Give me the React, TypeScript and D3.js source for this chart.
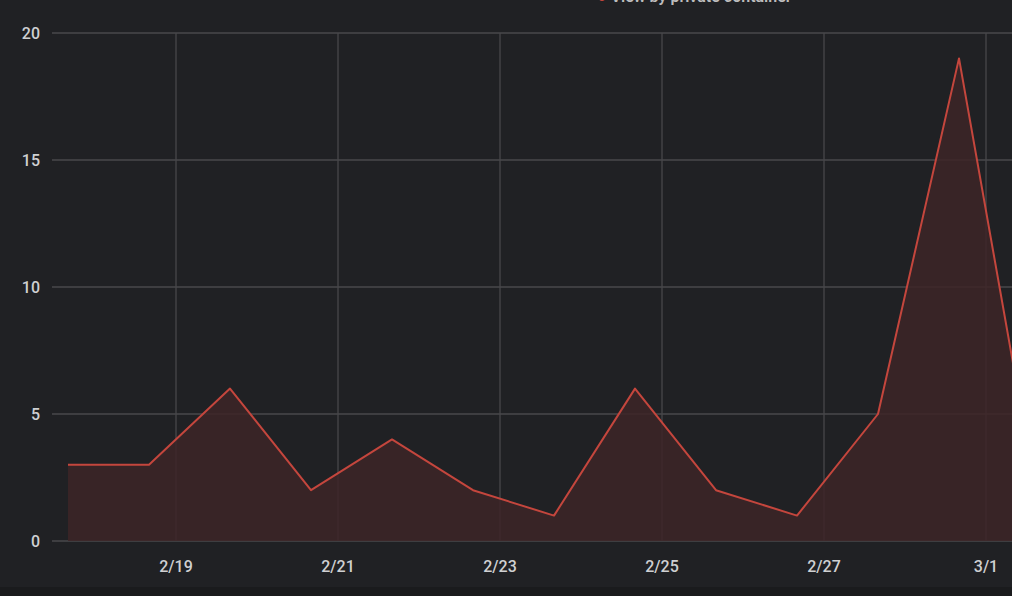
import * as d3 from 'd3'

const dates = [
  '2022-02-17T16:00', '2022-02-18T16:00', '2022-02-19T16:00', '2022-02-20T16:00',
  '2022-02-21T16:00', '2022-02-22T16:00', '2022-02-23T16:00', '2022-02-24T16:00',
  '2022-02-25T16:00', '2022-02-26T16:00', '2022-02-27T16:00', '2022-02-28T16:00',
  '2022-03-01T16:00',
]
const counts = [3, 3, 6, 2, 4, 2, 1, 6, 2, 1, 5, 19, 1]
const yTicks = [0, 5, 10, 15, 20]
const xTicks = ['2022-02-19', '2022-02-21', '2022-02-23', '2022-02-25', '2022-02-27', '2022-03-01']

const W = 1012
const H = 596
const plot = { left: 52, right: 1012, top: 33, bottom: 541 }

export default function App() {
  const parse = (s: string) => new Date(s)
  const data = dates.map((d, i) => ({ t: parse(d), v: counts[i] }))

  const x = d3.scaleTime()
    .domain([parse('2022-02-19T00:00'), parse('2022-03-01T00:00')])
    .range([176, 986])
  const y = d3.scaleLinear().domain([0, 20]).range([plot.bottom, plot.top])

  const area = d3.area<{ t: Date; v: number }>()
    .x((d) => x(d.t))
    .y0(y(0))
    .y1((d) => y(d.v))
  const line = d3.line<{ t: Date; v: number }>()
    .x((d) => x(d.t))
    .y((d) => y(d.v))

  const fmt = d3.timeFormat('%-m/%-d')
  const font = 'Roboto, "Noto Sans", sans-serif'

  return (
    <div style={{ position: 'fixed', left: 0, top: 0, width: W, height: H, background: '#202124' }}>
      <svg width={W} height={H} style={{ display: 'block' }}>
        <rect x={0} y={0} width={W} height={H} fill="#202124" />
        <rect x={0} y={587} width={W} height={H - 587} fill="#1a1b1d" />
        <defs>
          <clipPath id="plotClip">
            <rect x={plot.left} y={0} width={plot.right - plot.left} height={plot.bottom + 1} />
          </clipPath>
        </defs>

        {/* title, cut off at the top edge as in the source */}
        <text x={597} y={2} fill="#bdbdbd" fontSize={16} fontFamily={font} fontWeight={600}>
          <tspan fill="#c0453d">● </tspan>View by private container
        </text>

        {/* grid */}
        {yTicks.map((t) => (
          <line key={'h' + t} x1={plot.left} x2={plot.right} y1={y(t)} y2={y(t)} stroke="#48484b" strokeWidth={1.3} />
        ))}
        {xTicks.map((t) => (
          <line key={'v' + t} x1={x(parse(t + 'T00:00'))} x2={x(parse(t + 'T00:00'))} y1={plot.top} y2={plot.bottom} stroke="#48484b" strokeWidth={1.3} />
        ))}

        <g clipPath="url(#plotClip)">
          <path d={area(data) ?? ''} fill="#3d2527" fillOpacity={0.85} />
          <path d={line(data) ?? ''} fill="none" stroke="#c4463d" strokeWidth={2} strokeLinejoin="round" />
        </g>

        {/* y labels */}
        {yTicks.map((t) => (
          <text key={'yl' + t} x={40} y={y(t)} dy="0.35em" textAnchor="end" fill="#cfd0d2" fontSize={16} fontWeight={500} fontFamily={font}>
            {t}
          </text>
        ))}
        {/* x labels */}
        {xTicks.map((t) => (
          <text key={'xl' + t} x={x(parse(t + 'T00:00'))} y={566} dy="0.35em" textAnchor="middle" fill="#cfd0d2" fontSize={16} fontWeight={500} fontFamily={font}>
            {fmt(parse(t + 'T00:00'))}
          </text>
        ))}
      </svg>
    </div>
  )
}
